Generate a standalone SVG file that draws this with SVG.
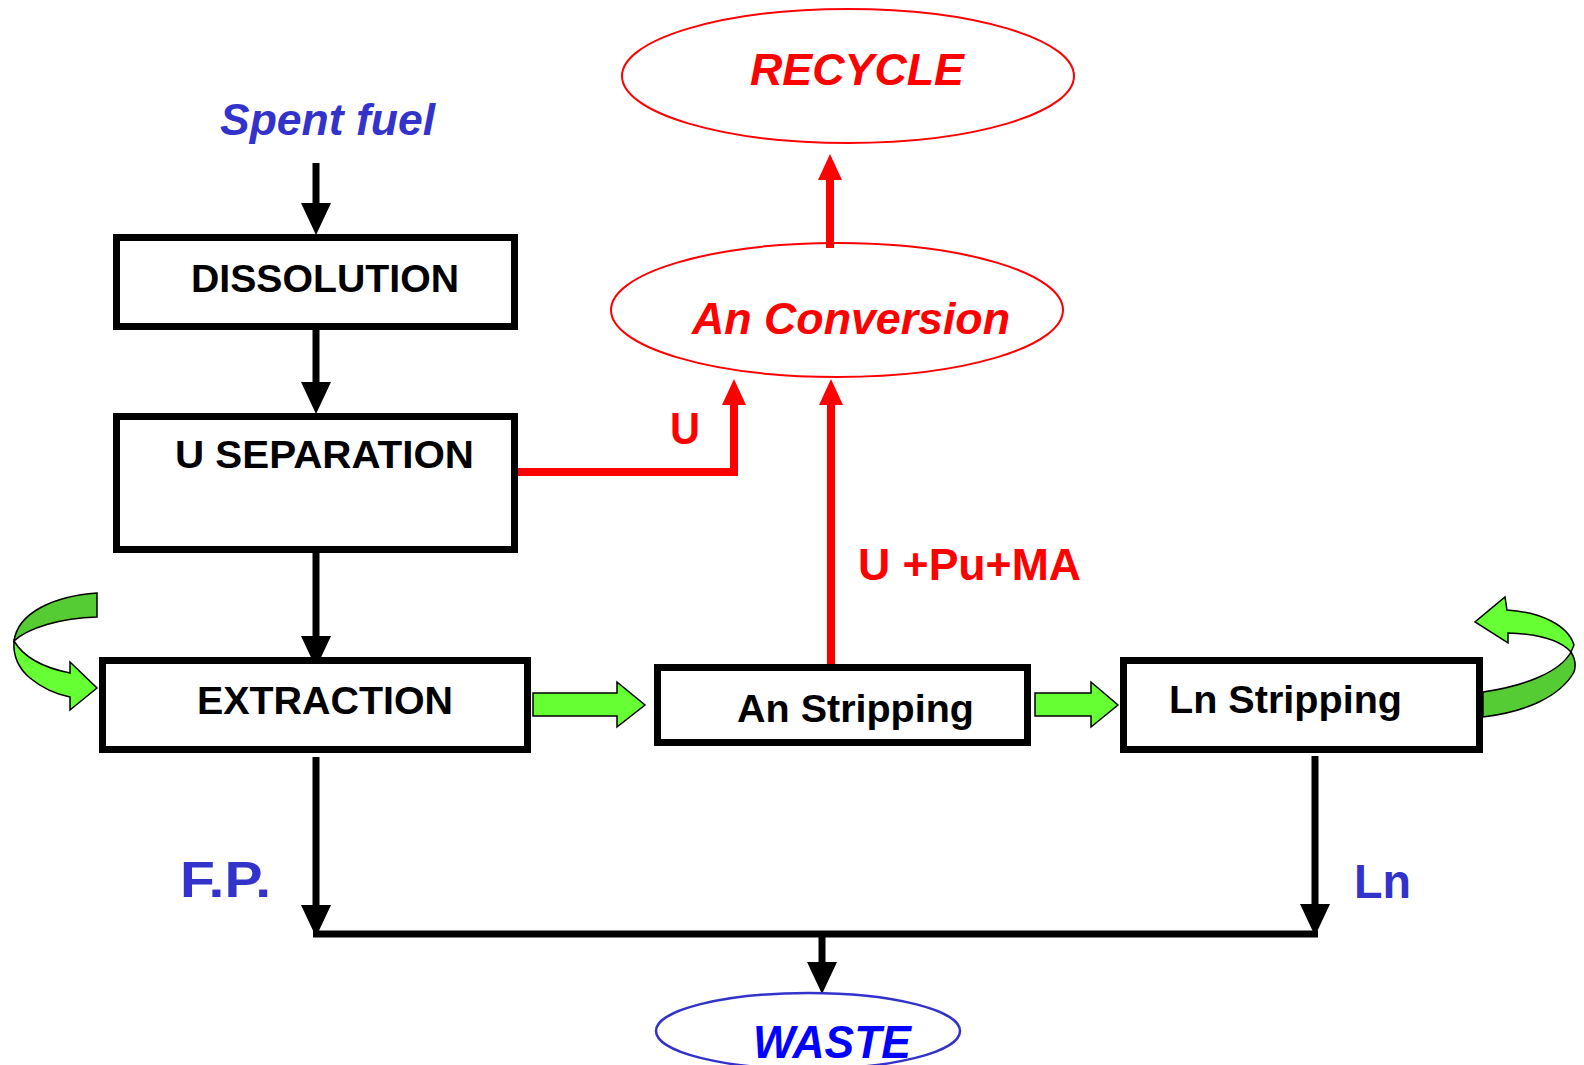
<svg xmlns="http://www.w3.org/2000/svg" width="1584" height="1065" viewBox="0 0 1584 1065">
<style>
.box{fill:#fff;stroke:#000;stroke-width:7}
.lbl{font-family:"Liberation Sans",Arial,sans-serif;font-weight:bold}
.it{font-style:italic}
.blk{fill:#000}
.red{fill:#f00}
.blu{fill:#3333cc}
.bk{stroke:#000;stroke-width:7;fill:none}
.rd{stroke:#f00;stroke-width:8;fill:none}
.grn{fill:#66ff33;stroke:#000;stroke-width:1.5;stroke-linejoin:miter}
.dgrn{fill:#55cc33;stroke:#000;stroke-width:1.5}
</style>
<defs>
<marker id="ahb" markerUnits="userSpaceOnUse" viewBox="0 0 32 30" refX="1" refY="15" markerWidth="32" markerHeight="30" orient="auto">
<path d="M0,0 L32,15 L0,30 Z" fill="#000"/>
</marker>
<marker id="ahr" markerUnits="userSpaceOnUse" viewBox="0 0 26 24" refX="1" refY="12" markerWidth="26" markerHeight="24" orient="auto">
<path d="M0,0 L26,12 L0,24 Z" fill="#f00"/>
</marker>
</defs>
<rect width="1584" height="1065" fill="#fff"/>

<g id="connectors">
<path class="bk" d="M316,163 V204" marker-end="url(#ahb)"/>
<path class="bk" d="M316,330 V383" marker-end="url(#ahb)"/>
<path class="bk" d="M316,553 V637" marker-end="url(#ahb)"/>
<path class="bk" d="M316,757 V906" marker-end="url(#ahb)"/>
<path class="bk" d="M1315,756 V905" marker-end="url(#ahb)"/>
<path class="bk" d="M313,934 H1318"/>
<path class="bk" d="M822,934 V963" marker-end="url(#ahb)"/>
<path class="rd" d="M510,472 H734 V404" marker-end="url(#ahr)"/>
<path class="rd" d="M831,664 V404" marker-end="url(#ahr)"/>
<path class="rd" d="M830,248 V179" marker-end="url(#ahr)"/>
<path class="grn" d="M533,693 L617,693 L617,682 L645,705 L617,727 L617,716 L533,716 Z"/>
<path class="grn" d="M1035,693 L1091,693 L1091,682 L1118,705 L1091,727 L1091,716 L1035,716 Z"/>
<g id="loop-left">
<path class="dgrn" d="M97,593 C55,596 18,612 14,641 C28,628 60,618 97,617 Z"/>
<path class="grn" d="M14,641 C13,655 18,668 30,678 C42,688 55,694 70,697 L70,710 L97,688 L70,662 L70,673 C45,668 24,658 14,641 Z"/>
</g>
<g id="loop-right">
<path class="dgrn" d="M1483,692 C1525,686 1560,672 1571,652 C1576,660 1576,666 1574,672 C1560,697 1525,712 1483,717 Z"/>
<path class="grn" d="M1571,652 C1560,640 1540,634 1508,633 L1508,643 L1475,622 L1505,597 L1507,610 C1540,612 1568,625 1574,645 Z"/>
</g>
<text class="lbl red" x="670" y="444" font-size="44" textLength="30" lengthAdjust="spacingAndGlyphs">U</text>
<text class="lbl red" x="858" y="580" font-size="44" textLength="223" lengthAdjust="spacingAndGlyphs">U +Pu+MA</text>
<text class="lbl blu" x="180" y="897" font-size="50" textLength="91" lengthAdjust="spacingAndGlyphs">F.P.</text>
<text class="lbl blu" x="1354" y="898" font-size="49" textLength="57" lengthAdjust="spacingAndGlyphs">Ln</text>
</g>

<g id="spent-fuel">
<text class="lbl it blu" x="220" y="135" font-size="44" textLength="215" lengthAdjust="spacingAndGlyphs">Spent fuel</text>
</g>
<g id="dissolution">
<rect class="box" x="116.5" y="237.5" width="398" height="89"/>
<text class="lbl blk" x="191" y="292" font-size="39" textLength="268" lengthAdjust="spacingAndGlyphs">DISSOLUTION</text>
</g>
<g id="u-separation">
<rect class="box" x="116.5" y="416.5" width="398" height="133"/>
<text class="lbl blk" x="175" y="468" font-size="39" textLength="299" lengthAdjust="spacingAndGlyphs">U SEPARATION</text>
</g>
<g id="extraction">
<rect class="box" x="102.5" y="660.5" width="425" height="89"/>
<text class="lbl blk" x="197" y="714" font-size="39" textLength="256" lengthAdjust="spacingAndGlyphs">EXTRACTION</text>
</g>
<g id="an-stripping">
<rect class="box" x="657.5" y="667.5" width="370" height="75"/>
<text class="lbl blk" x="737" y="722" font-size="39" textLength="237" lengthAdjust="spacingAndGlyphs">An Stripping</text>
</g>
<g id="ln-stripping">
<rect class="box" x="1123.5" y="660.5" width="356" height="89"/>
<text class="lbl blk" x="1169" y="713" font-size="39" textLength="233" lengthAdjust="spacingAndGlyphs">Ln Stripping</text>
</g>
<g id="an-conversion">
<ellipse cx="837" cy="310" rx="226" ry="67" fill="none" stroke="#f00" stroke-width="2"/>
<text class="lbl it red" x="692" y="334" font-size="44" textLength="318" lengthAdjust="spacingAndGlyphs">An Conversion</text>
</g>
<g id="recycle">
<ellipse cx="848" cy="76" rx="226" ry="67" fill="none" stroke="#f00" stroke-width="2"/>
<text class="lbl it red" x="750" y="85" font-size="44" textLength="214" lengthAdjust="spacingAndGlyphs">RECYCLE</text>
</g>
<g id="waste">
<ellipse cx="808" cy="1031" rx="152" ry="38" fill="none" stroke="#3333cc" stroke-width="2.5"/>
<text class="lbl it" fill="#0000ff" x="753" y="1058" font-size="46" textLength="158" lengthAdjust="spacingAndGlyphs">WASTE</text>
</g>
</svg>
